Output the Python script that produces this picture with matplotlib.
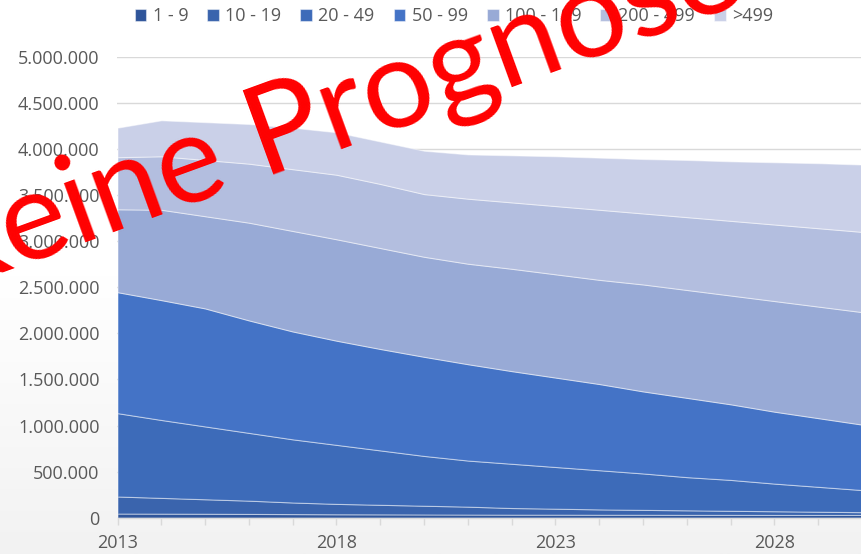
import matplotlib
matplotlib.use("Agg")
import matplotlib.pyplot as plt
import numpy as np
from matplotlib.ticker import MultipleLocator, FuncFormatter
from matplotlib.colors import LinearSegmentedColormap

years = list(range(2013, 2031))
labels = ["1 - 9", "10 - 19", "20 - 49", "50 - 99", "100 - 199", "200 - 499", ">499"]

# cumulative totals (millions), converted to per-class values below
cum_1_9 = [0.045, 0.044, 0.043, 0.041, 0.039, 0.037, 0.036, 0.035, 0.034, 0.033,
           0.033, 0.032, 0.032, 0.031, 0.031, 0.030, 0.030, 0.030]
cum_10_19 = [0.230, 0.215, 0.200, 0.185, 0.165, 0.150, 0.140, 0.130, 0.120, 0.105,
             0.098, 0.090, 0.085, 0.080, 0.075, 0.070, 0.065, 0.060]
cum_20_49 = [1.134, 1.060, 0.990, 0.920, 0.850, 0.790, 0.730, 0.670, 0.620, 0.585,
             0.550, 0.515, 0.480, 0.440, 0.410, 0.370, 0.335, 0.300]
cum_50_99 = [2.446, 2.360, 2.270, 2.140, 2.020, 1.920, 1.830, 1.745, 1.665, 1.590,
             1.520, 1.450, 1.370, 1.300, 1.230, 1.150, 1.080, 1.010]
cum_100_199 = [3.345, 3.340, 3.270, 3.200, 3.110, 3.020, 2.925, 2.830, 2.755, 2.700,
               2.640, 2.580, 2.530, 2.470, 2.410, 2.350, 2.290, 2.230]
cum_200_499 = [3.910, 3.920, 3.880, 3.840, 3.780, 3.720, 3.620, 3.510, 3.460, 3.420,
               3.380, 3.340, 3.300, 3.260, 3.220, 3.180, 3.140, 3.100]
cum_total = [4.230, 4.310, 4.290, 4.270, 4.230, 4.180, 4.080, 3.980, 3.940, 3.930,
             3.920, 3.905, 3.890, 3.880, 3.865, 3.855, 3.845, 3.830]

cums = np.array([cum_1_9, cum_10_19, cum_20_49, cum_50_99, cum_100_199, cum_200_499, cum_total]) * 1e6
series = np.diff(np.vstack([np.zeros(len(years)), cums]), axis=0)

colors = ["#2F559A", "#3A64AD", "#3D6BB9", "#4473C6", "#98AAD6", "#B3BEDF", "#CAD0E8"]

W, H = 862, 554
fig = plt.figure(figsize=(W / 100, H / 100), dpi=100)

# gradient background: white at top, light gray at bottom
bg = fig.add_axes([0, 0, 1, 1], zorder=-10)
grad = np.linspace(0.0, 1.0, 256).reshape(-1, 1)
cmap = LinearSegmentedColormap.from_list("g", ["#FFFFFF", "#FFFFFF", "#F2F2F2"])
bg.imshow(grad, aspect="auto", cmap=cmap, extent=[0, 1, 0, 1], vmin=0, vmax=1)
bg.axis("off")

left = 117.5 / W
bottom = (H - 517.7) / H
top = (H - 56.7) / H
ax = fig.add_axes([left, bottom, 1.0 - left, top - bottom])
ax.patch.set_alpha(0)

polys = ax.stackplot(years, series, colors=colors, labels=labels,
                     edgecolor=(1, 1, 1, 0.45), linewidth=0.8)

ax.set_xlim(2013, 2030)
ax.set_ylim(0, 5e6)
ax.yaxis.set_major_locator(MultipleLocator(500000))
ax.yaxis.set_major_formatter(FuncFormatter(lambda v, p: f"{int(round(v)):,}".replace(",", ".")))
ax.xaxis.set_major_locator(MultipleLocator(1))
ax.xaxis.set_major_formatter(FuncFormatter(lambda v, p: str(int(round(v))) if (int(round(v)) - 2013) % 5 == 0 else ""))

ax.grid(axis="y", color="#D9D9D9", linewidth=1.0, zorder=0)
ax.set_axisbelow(True)
for s in ["top", "right", "left"]:
    ax.spines[s].set_visible(False)
ax.spines["bottom"].set_color("#D9D9D9")
ax.spines["bottom"].set_linewidth(1.0)

font = "Open Sans"
ax.tick_params(axis="y", length=0, pad=13, labelsize=13, labelcolor="#595959")
ax.tick_params(axis="x", length=5, width=1, color="#D9D9D9", pad=7, labelsize=13, labelcolor="#595959")
for lab in ax.get_xticklabels() + ax.get_yticklabels():
    lab.set_fontfamily(font)

leg = fig.legend(handles=polys, labels=labels, loc="center", bbox_to_anchor=(454 / W, 1 - 16 / H),
                 ncol=7, frameon=False, handlelength=0.65, handleheight=0.65, handletextpad=0.35,
                 columnspacing=1.05, prop={"family": font, "size": 13})
for t in leg.get_texts():
    t.set_color("#595959")

fig.text(331 / W, 1 - 117 / H, "Keine Prognose", color="#FF0000", fontsize=90, family="Lato",
         rotation=20, ha="center", va="center", rotation_mode="anchor", zorder=20)

fig.savefig("out.png", dpi=100)
